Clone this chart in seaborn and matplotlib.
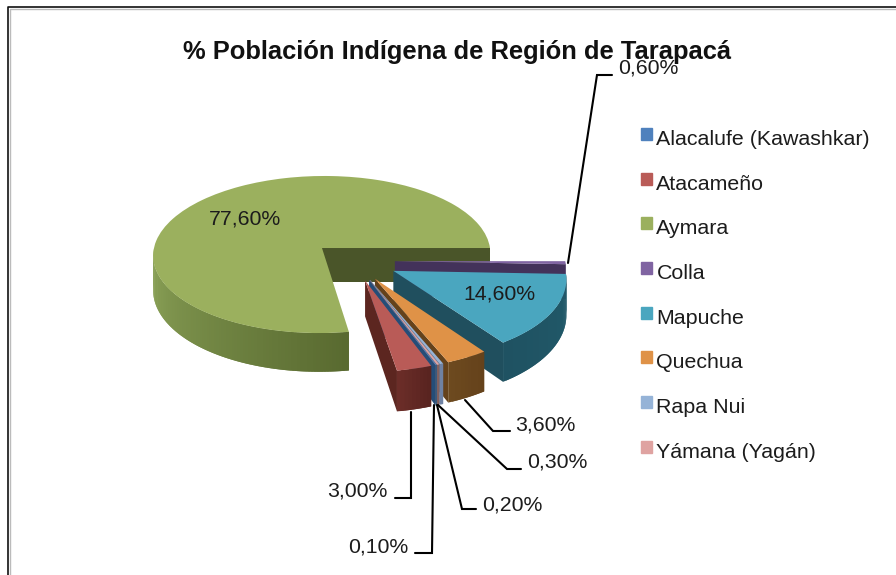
import numpy as np
import seaborn as sns
import matplotlib
matplotlib.use("Agg")
import matplotlib.pyplot as plt
from matplotlib.legend_handler import HandlerPatch
from matplotlib.patches import Patch, Rectangle
from matplotlib.transforms import Transform

categories = ["Alacalufe (Kawashkar)", "Atacameño", "Aymara", "Colla", "Mapuche", "Quechua", "Rapa Nui", "Yámana (Yagán)"]
percent = [0.1, 3.0, 77.6, 0.6, 14.6, 3.6, 0.3, 0.2]
top_colors = ["#4f81bd", "#b95b57", "#9bb05e", "#8064a2", "#4aa6bf", "#df9247", "#95b3d7", "#dfa3a1"]
# wall shading goes left to right along the rim
rim_colors = [("#2b5a85", "#2b5a85"), ("#6b2d28", "#592420"), ("#8ea65a", "#596a30"), ("#43325a", "#43325a"),
              ("#1f5262", "#215a6a"), ("#6d4a1f", "#65421b"), ("#6f82a3", "#6f82a3"), ("#80605f", "#80605f")]
cut_colors = ["#254d78", "#5c2620", "#4a5529", "#43325a", "#204f5e", "#65421b", "#6f82a3", "#80605f"]
# painted back to front
draw_order = [2, 3, 4, 5, 6, 7, 0, 1]

title = "% Población Indígena de Región de Tarapacá"
label_xy = [(378, 547), (357, 491), (245, 219), (648, 68), (499, 294), (545, 425), (557, 462), (512, 505)]
leaders = {0: [(434, 405), (432, 553), (415, 553)], 1: [(411, 412), (411, 498), (395, 498)],
           3: [(568, 263), (597, 75), (612, 75)], 5: [(465, 400), (493, 431), (510, 431)],
           6: [(438, 405), (507, 469), (521, 469)], 7: [(437, 405), (462, 509), (476, 509)]}

# camera of the tilted pie, in pixels
center_x, horizon_y, radius_x, radius_y, tilt, depth = 354, 248, 168, 78, 0.0828, 34


def project(xy, drop=0.0):
    x, y = xy[:, 0], xy[:, 1]
    w = 1 + tilt * y
    return np.column_stack([center_x + radius_x * x / w, horizon_y - radius_y * y / w + drop / w ** 1.5])


class TiltedPie(Transform):
    input_dims = output_dims = 2

    def transform_non_affine(self, values):
        return project(np.asarray(values))


def raised_square(legend, orig_handle, xdescent, ydescent, width, height, fontsize):
    # legend squares sit a bit above the middle of the text
    return Rectangle((-xdescent, -ydescent + 2.5), width, height)


sns.set_theme(style="white", font="Liberation Sans")
fig, ax = plt.subplots(figsize=(8.96, 5.75), dpi=100)
fig.subplots_adjust(0, 0, 1, 1)

wedges, _ = ax.pie(percent, colors=top_colors, startangle=-69.48, counterclock=False,
                   explode=[0.25, 0.25, 0.25, 0.24, 0.26, 0.25, 0.25, 0.25],
                   center=(0, -0.162), wedgeprops={"linewidth": 0})
ax.set_aspect("auto")
ax.set_xlim(0, 896)
ax.set_ylim(575, 0)
ax.axis("off")

for z, i in enumerate(draw_order):
    w = wedges[i]
    tip = np.array(w.center)
    # flat cut faces, only the ones turned to the viewer
    for theta, seen in ((w.theta1, np.cos(np.radians(w.theta1)) > 0), (w.theta2, np.cos(np.radians(w.theta2)) < 0)):
        if seen:
            edge = np.array([tip, tip + [np.cos(np.radians(theta)), np.sin(np.radians(theta))]])
            face = np.vstack([project(edge), project(edge, depth)[::-1]])
            ax.fill(face[:, 0], face[:, 1], color=cut_colors[i], lw=0, zorder=z)
    # curved outer wall, each piece overlaps the next one so no seams show
    t = np.radians(np.linspace(w.theta1, w.theta2, max(3, int(w.theta2 - w.theta1))))
    t = t[np.sin(t) < -1e-6]
    rim = tip + np.column_stack([np.cos(t), np.sin(t)])
    upper, lower = project(rim), project(rim, depth)
    shades = sns.blend_palette(rim_colors[i], max(len(t) - 1, 2))
    for j in range(len(t) - 1):
        quad = np.vstack([upper[j:j + 3], lower[j:j + 3][::-1]])
        ax.fill(quad[:, 0], quad[:, 1], color=shades[j], lw=0, zorder=z)
    w.set_transform(TiltedPie() + ax.transData)
    w.set_zorder(z + 0.5)

for i, v in enumerate(percent):
    ax.text(*label_xy[i], f"{v:.2f}".replace(".", ",") + "%", fontsize=15.3, color="#1c1c1c",
            ha="center", va="center", zorder=30)

for path in leaders.values():
    xs, ys = zip(*path)
    ax.plot(xs, ys, color="black", lw=1.5, zorder=20, solid_joinstyle="miter")

# chart frame, cut off by the screenshot on the right and bottom
ax.plot([8, 8, 896], [575, 7, 7], color="#111111", lw=1.2, zorder=20)
ax.plot([9.5, 9.5, 896], [575, 8.5, 8.5], color="#bbbbbb", lw=1, zorder=19)

ax.text(457, 52, title, fontsize=18.4, fontweight="bold", color="#111111", ha="center", va="center", zorder=40)

handles = [Patch(color=c) for c in top_colors]
ax.legend(handles, categories, loc="upper left", bbox_to_anchor=(641, 130), bbox_transform=ax.transData,
          frameon=False, fontsize=15.4, labelspacing=1.2, handlelength=0.5, handleheight=0.5,
          handletextpad=0.22, borderpad=0, borderaxespad=0, labelcolor="#1c1c1c",
          handler_map={Patch: HandlerPatch(patch_func=raised_square)})

plt.savefig("out.png", dpi=100)
